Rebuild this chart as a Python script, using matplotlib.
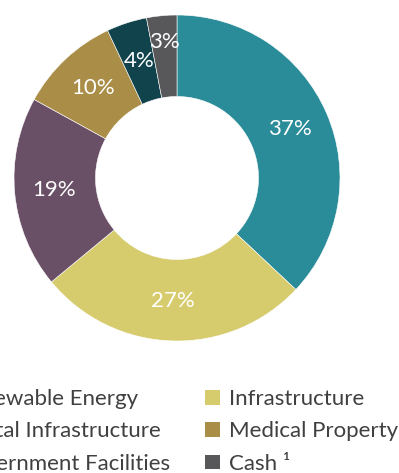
import matplotlib
matplotlib.use("Agg")
import matplotlib.pyplot as plt
from matplotlib.patches import Patch

plt.rcParams['font.family'] = ['Lato', 'DejaVu Sans']

categories = ["Renewable Energy", "Infrastructure", "Government Facilities",
              "Medical Property", "Digital Infrastructure", "Cash \u00b9"]
values = [37, 27, 19, 10, 4, 3]
colors = ["#2A8B99", "#D6CC6E", "#6A5067", "#AA8E48", "#11434D", "#58585A"]
legend_order = ["Renewable Energy", "Digital Infrastructure", "Government Facilities",
                "Infrastructure", "Medical Property", "Cash \u00b9"]

W, H = 399, 473
fig = plt.figure(figsize=(W / 100, H / 100), dpi=100)
cx, cy, r = 177, 178, 163
ax = fig.add_axes([(cx - r) / W, (H - cy - r) / H, 2 * r / W, 2 * r / H])
wedges, texts, autotexts = ax.pie(
    values, colors=colors, startangle=90, counterclock=False, radius=1,
    wedgeprops=dict(width=0.5, edgecolor='white', linewidth=0.4),
    autopct=lambda p: f"{p:.0f}%", pctdistance=0.755,
    textprops=dict(color='white', fontsize=16))
# nudge the smallest slice's label outward, as in the reference
x, y = autotexts[-1].get_position()
autotexts[-1].set_position((x * 0.84 / 0.755, y * 0.84 / 0.755))
ax.set_xlim(-1, 1)
ax.set_ylim(-1, 1)
ax.set_aspect('equal')
ax.axis('off')

cmap = dict(zip(categories, colors))
handles = [Patch(facecolor=cmap[c], edgecolor='none') for c in legend_order]
fig.legend(handles, legend_order, ncol=2, loc='upper left',
           bbox_to_anchor=(-87 / W, 1 - 369 / H), frameon=False,
           fontsize=16, labelcolor='#404040', handlelength=0.65, handleheight=0.65,
           handletextpad=0.4, columnspacing=1.57, labelspacing=0.56)

fig.savefig("out.png", dpi=100)
